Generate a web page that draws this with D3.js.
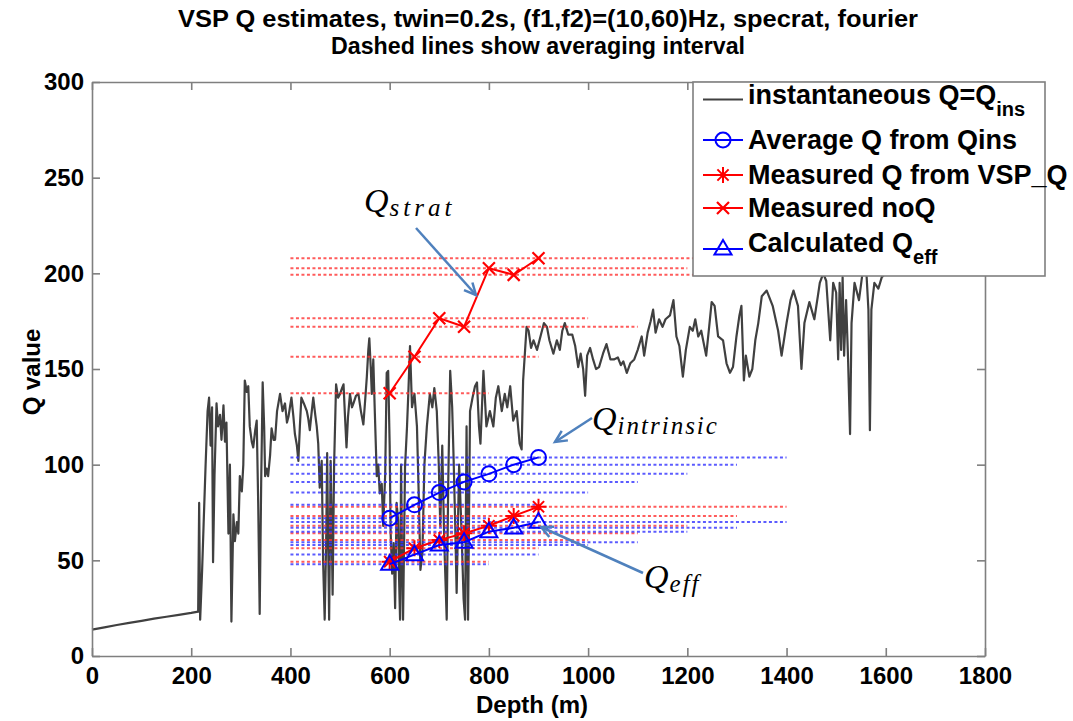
<!DOCTYPE html>
<html><head><meta charset="utf-8">
<script src="https://cdn.jsdelivr.net/npm/d3@7"></script>
<style>
body{margin:0;background:#fff;}
svg text{font-family:"Liberation Sans",Arial,sans-serif;}
</style></head>
<body><svg id="chart" width="1073" height="721"></svg>
<script>
const xTicks = [0,200,400,600,800,1000,1200,1400,1600,1800];
const yTicks = [0,50,100,150,200,250,300];
const depths = [600,650,700,750,800,850,900];
const intervalStart = [400,400,400,400,400,400,400];
const intervalEnd = [800,900,1000,1100,1200,1300,1400];
const avgQ = [72,79,85.4,91,95.2,100,103.8];
const measQ = [49.3,56.3,60.6,64.1,68.1,73.2,78];
const noQ = [137.3,156.4,176.5,172.1,202.7,199.2,207.9];
const qEff = [48,53,58,59.5,65,67,70];
const insDepth = [0,25,50,75,100,125,150,175,200,214,
216,218,222,225,229,233,236,239,242,244,247,251,254,258,261,265,268,271,275,278,281,285,288,292,295,298,302,305,308,312,315,318,322,325,329,332,335,338,341,344,347,349,352,355,359,362,366,369,373,379,384,389,393,396,399,402,406,409,413,416,419,422,427,433,436,439,443,446,450,453,456,459,463,466,469,472,474,476,478,481,483,485,488,492,496,500,504,507,510,513,516,520,524,527,532,537,542,547,551,554,557,559,562,564,567,570,574,577,580,584,587,591,594,597,600,602,605,608,611,614,617,619,621,623,625,627,631,635,638,641,645,650,655,659,662,666,670,675,681,686,690,695,699,702,706,710,715,718,722,726,729,732,735,740,745,749,752,755,758,762,767,772,776,780,783,789,795,802,809,814,819,826,832,837,843,849,856,862,866,869,873,876,
880,885,890,897,905,911,917,922,930,937,943,948,953,960,968,974,980,985,990,994,998,1004,1010,1016,1022,1030,1037,1045,1052,1060,1066,1071,1078,1085,1093,1100,1108,1113,1120,1126,1131,1136,1143,1150,1156,1165,1172,1178,1184,1191,1197,1205,1211,1216,1222,1228,1238,1244,1249,1255,1262,1272,1279,1286,1292,1299,1305,1309,1314,1318,1325,1331,1337,1343,1350,1360,1372,1383,1390,1400,1408,1414,1423,1430,1436,1446,1456,1463,1467,1474,1480,1488,1494,1500,1504,1507,1510,1513,1516,1520,1524,1528,1531,1537,1546,1553,1560,1565,1568,1571,1577,1585,1592,1600];
const insQ = [13.8,15,16.2,17.3,18.4,19.5,20.5,21.5,22.5,23.2,
80,19,45,69,100,128,135,110,130,49,95,132,120,126,113,131,112,122,64,100,18,74,60,70,64,94,86,100,144,138,141,120,112,109,118,123,80,22,90,143,120,94,98,94,105,119,113,113,128,137,128,132,122,125,130,135,125,116,110,102,120,135,132,128,124,118,128,135,126,120,111,88,102,48,19,60,106,60,19,102,70,32,100,142,135,137,140,142,125,109,125,137,130,132,136,137,128,121,135,146,160,166,150,137,155,128,94,100,85,90,68,95,148,149,110,64,43,59,25,80,71,40,19,100,50,19,99,120,140,162,130,137,120,80,45,54,100,120,137,130,140,128,100,68,110,60,19,90,149,130,102,70,33,100,64,30,19,120,19,128,135,141,143,120,111,149,120,128,120,135,141,128,137,130,141,123,128,111,108,144,160,172,
170,161,165,160,168,174,172,165,158,165,160,170,174,168,168,162,151,158,150,136,157,161,155,150,151,158,163,155,155,156,152,154,148,153,155,160,167,157,169,175,181,169,176,172,176,178,186,167,162,146,160,172,170,176,167,170,157,172,185,183,167,165,153,148,151,167,178,183,144,157,146,150,165,174,188,191,183,170,157,174,186,191,183,150,174,185,176,188,195,200,196,165,195,190,155,195,160,198,157,186,155,116,174,195,186,200,205,181,118,181,195,192,198,200];

const svg = d3.select("#chart");
const x = d3.scaleLinear([0,1800],[92,985]);
const y = d3.scaleLinear([0,300],[656,82]);
const axisColor = "#7f7f7f";

// title
svg.append("text").attr("x",548).attr("y",27).attr("text-anchor","middle")
  .attr("textLength",740).attr("lengthAdjust","spacingAndGlyphs")
  .style("font-weight","bold").style("font-size","24px")
  .text("VSP Q estimates, twin=0.2s, (f1,f2)=(10,60)Hz, specrat, fourier");
svg.append("text").attr("x",538).attr("y",54).attr("text-anchor","middle")
  .attr("textLength",414).attr("lengthAdjust","spacingAndGlyphs")
  .style("font-weight","bold").style("font-size","24px")
  .text("Dashed lines show averaging interval");

// plot box
svg.append("rect").attr("x",92).attr("y",82).attr("width",893).attr("height",574)
  .attr("fill","#fff");

// instantaneous Q
const line = d3.line().x(d=>x(d[0])).y(d=>y(d[1]));
const insData = insDepth.map((d,i)=>[d,insQ[i]]);
svg.append("path").datum(insData).attr("d",line)
  .attr("fill","none").attr("stroke","#404040").attr("stroke-width",2.2)
  .attr("stroke-linejoin","round");

// dashed averaging-interval lines
function dashed(vals,color){
  const g = svg.append("g");
  vals.forEach((v,i)=>{
    g.append("line").attr("x1",x(intervalStart[i])).attr("x2",x(intervalEnd[i]))
      .attr("y1",y(v)).attr("y2",y(v))
      .attr("stroke",color).attr("stroke-width",2).attr("stroke-dasharray","3,2.5");
  });
}
dashed(noQ,"rgba(255,50,50,0.8)");
dashed(measQ,"rgba(255,50,50,0.8)");
dashed(avgQ,"rgba(50,50,255,0.8)");
dashed(qEff,"rgba(50,50,255,0.8)");

// markers
function markerPath(type,s){
  if(type==="x"){const a=s*0.75;return `M${-a},${-a}L${a},${a}M${-a},${a}L${a},${-a}`;}
  if(type==="star"){const a=s*0.7;return `M${-s},0L${s},0M0,${-s}L0,${s}M${-a},${-a}L${a},${a}M${-a},${a}L${a},${-a}`;}
  if(type==="tri"){return `M0,${-s}L${s*0.95},${s*0.62}L${-s*0.95},${s*0.62}Z`;}
}
function drawMarker(g,type,cx,cy,color){
  if(type==="circle"){
    g.append("circle").attr("cx",cx).attr("cy",cy).attr("r",7.5)
      .attr("fill","none").attr("stroke",color).attr("stroke-width",2);
  } else {
    const s = type==="tri"?9:8;
    g.append("path").attr("d",markerPath(type,s)).attr("transform",`translate(${cx},${cy})`)
      .attr("fill","none").attr("stroke",color).attr("stroke-width",type==="x"?2.2:2);
  }
}
function series(vals,color,type){
  const g = svg.append("g");
  const data = depths.map((d,i)=>[d,vals[i]]);
  g.append("path").datum(data).attr("d",line).attr("fill","none")
    .attr("stroke",color).attr("stroke-width",2);
  data.forEach(d=>drawMarker(g,type,x(d[0]),y(d[1]),color));
}
series(noQ,"#ff0000","x");
series(avgQ,"#0000ff","circle");
series(measQ,"#ff0000","star");
series(qEff,"#0000ff","tri");

// axes box & ticks
const tickFont = g=>g.selectAll("text").style("font-size","24px").style("font-weight","bold").attr("fill","#000");
const axB = svg.append("g").attr("transform","translate(0,656)")
  .call(d3.axisBottom(x).tickValues(xTicks).tickFormat(d3.format("d")).tickSizeInner(-8).tickSizeOuter(0).tickPadding(11));
axB.call(tickFont);
const axL = svg.append("g").attr("transform","translate(92,0)")
  .call(d3.axisLeft(y).tickValues(yTicks).tickFormat(d3.format("d")).tickSizeInner(-8).tickSizeOuter(0).tickPadding(8));
axL.call(tickFont);
const axT = svg.append("g").attr("transform","translate(0,82)")
  .call(d3.axisTop(x).tickValues(xTicks).tickFormat("").tickSizeInner(-8).tickSizeOuter(0));
const axR = svg.append("g").attr("transform","translate(985,0)")
  .call(d3.axisRight(y).tickValues(yTicks).tickFormat("").tickSizeInner(-8).tickSizeOuter(0));
[axB,axL,axT,axR].forEach(a=>{
  a.selectAll("path.domain").attr("stroke",axisColor).attr("stroke-width",1.6);
  a.selectAll(".tick line").attr("stroke",axisColor).attr("stroke-width",1.6);
});

// axis labels
svg.append("text").attr("x",532).attr("y",713).attr("text-anchor","middle")
  .style("font-weight","bold").style("font-size","24px").text("Depth (m)");
svg.append("text").attr("transform","translate(40,372) rotate(-90)").attr("text-anchor","middle")
  .style("font-weight","bold").style("font-size","24px").text("Q value");

// annotations
const annColor = "#4f81bd";
function arrow(x1,y1,x2,y2){
  const g = svg.append("g");
  g.append("line").attr("x1",x1).attr("y1",y1).attr("x2",x2).attr("y2",y2)
    .attr("stroke",annColor).attr("stroke-width",2.5);
  const ang = Math.atan2(y2-y1,x2-x1), L=13, sp=0.45;
  const p1=[x2-L*Math.cos(ang-sp),y2-L*Math.sin(ang-sp)], p2=[x2-L*Math.cos(ang+sp),y2-L*Math.sin(ang+sp)];
  g.append("path").attr("d",`M${p1}L${x2},${y2}L${p2}`).attr("fill","none")
    .attr("stroke",annColor).attr("stroke-width",2.5);
}
arrow(416,228,476,295);
arrow(592,418,555,442);
arrow(643,573,541,527);
function qlabel(xp,yp,sub,ls){
  const t = svg.append("text").attr("x",xp).attr("y",yp)
    .style("font-family","'Liberation Serif','DejaVu Serif',serif").style("font-style","italic");
  t.append("tspan").style("font-size","34px").text("Q");
  t.append("tspan").attr("dy",4).attr("dx",1).style("font-size","25px").style("letter-spacing",ls+"px").text(sub);
}
qlabel(364,212,"strat",4);
qlabel(592,430,"intrinsic",2);
qlabel(644,588,"eff",2);

// legend
const lg = svg.append("g");
lg.append("rect").attr("x",693).attr("y",82).attr("width",352).attr("height",194)
  .attr("fill","#fff").attr("stroke",axisColor).attr("stroke-width",1.6);
const legItems = [
  {label:"instantaneous Q=Q",sub:"ins",color:"#404040",type:null,ly:99.5,ty:104},
  {label:"Average Q from Qins",sub:null,color:"#0000ff",type:"circle",ly:140,ty:149},
  {label:"Measured Q from VSP_Q",sub:null,color:"#ff0000",type:"star",ly:175,ty:184},
  {label:"Measured noQ",sub:null,color:"#ff0000",type:"x",ly:208,ty:217},
  {label:"Calculated Q",sub:"eff",color:"#0000ff",type:"tri",ly:249,ty:252}
];
legItems.forEach(it=>{
  lg.append("line").attr("x1",703).attr("x2",743).attr("y1",it.ly).attr("y2",it.ly)
    .attr("stroke",it.color).attr("stroke-width",it.type?2:1.8);
  if(it.type) drawMarker(lg,it.type,723,it.ly,it.color);
  const t = lg.append("text").attr("x",748).attr("y",it.ty)
    .style("font-weight","bold").style("font-size","27px").attr("fill","#000");
  t.append("tspan").text(it.label);
  if(it.sub) t.append("tspan").attr("dy",12).style("font-size","20px").text(it.sub);
});
</script></body></html>
